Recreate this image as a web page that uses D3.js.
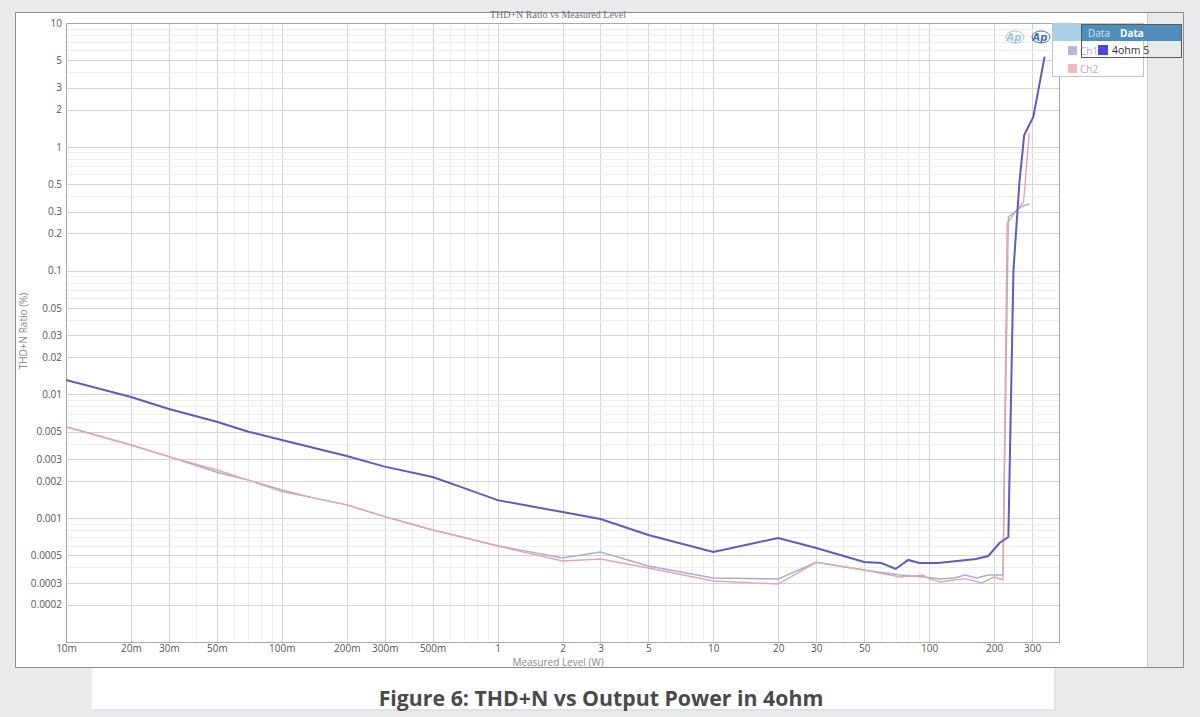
<!DOCTYPE html>
<html><head><meta charset="utf-8">
<script src="https://cdn.jsdelivr.net/npm/d3@7/dist/d3.min.js"></script>
<style>html,body{margin:0;padding:0;background:#e9eaec;}svg{display:block;}</style>
</head><body>
<svg id="c" width="1200" height="717"></svg>
<script>
const chartTitle = "THD+N Ratio vs Measured Level";
const xAxisTitle = "Measured Level (W)";
const yAxisTitle = "THD+N Ratio (%)";
const caption = "Figure 6: THD+N vs Output Power in 4ohm";

const xTickValues = [0.01,0.02,0.03,0.05,0.1,0.2,0.3,0.5,1,2,3,5,10,20,30,50,100,200,300];
const xTickLabels = ["10m","20m","30m","50m","100m","200m","300m","500m","1","2","3","5","10","20","30","50","100","200","300"];
const yTickValues = [10,5,3,2,1,0.5,0.3,0.2,0.1,0.05,0.03,0.02,0.01,0.005,0.003,0.002,0.001,0.0005,0.0003,0.0002];
const yTickLabels = ["10","5","3","2","1","0.5","0.3","0.2","0.1","0.05","0.03","0.02","0.01","0.005","0.003","0.002","0.001","0.0005","0.0003","0.0002"];

const ch1Power = [0.01,0.02,0.03,0.05,0.07,0.1,0.14,0.2,0.3,0.5,0.6,1,2,3,5,10,20,30,50,73.5,94,113,131,147,166,188,220,233,270,291];
const ch1Thd   = [0.00548,0.0039,0.00314,0.00235,0.00203,0.00169,0.00146,0.00128,0.00103,0.000803,0.000746,0.0006,0.000477,0.000533,0.000411,0.000329,0.000323,0.00044,0.000382,0.000348,0.000335,0.000323,0.000329,0.000348,0.000329,0.000348,0.000348,0.271,0.332,0.345];

const ch2Power = [0.01,0.02,0.03,0.05,0.07,0.1,0.14,0.2,0.3,0.5,0.6,1,2,3,5,10,20,30,50,73.5,94,100,113,131,147,175,200,220,230,251,274,291];
const ch2Thd   = [0.00548,0.0039,0.00314,0.00245,0.00203,0.00164,0.00146,0.00128,0.00103,0.000803,0.000746,0.000596,0.000451,0.000468,0.000396,0.000311,0.000294,0.00044,0.000382,0.000335,0.000348,0.000323,0.000305,0.000317,0.000325,0.0003,0.000335,0.000317,0.242,0.297,0.358,1.29];

const ohm4Power = [0.01,0.02,0.03,0.05,0.07,0.1,0.2,0.3,0.5,0.67,1,2,3,5,10,20,30,50,60,70,80,90,110,165,188,212,233,246,262,276,304,343];
const ohm4Thd   = [0.0131,0.00953,0.00762,0.00602,0.005,0.00428,0.00318,0.00261,0.00215,0.0018,0.0014,0.00112,0.000985,0.000731,0.000533,0.000692,0.000575,0.000443,0.000434,0.000389,0.00046,0.000434,0.000434,0.000468,0.000495,0.00063,0.000705,0.1,0.51,1.245,1.74,5.34];

const seriesNames = ["Ch1","Ch2","4ohm 5"];

const svg = d3.select("#c");
const L = 66, R = 1059, T = 23, B = 642;
const x = d3.scaleLog().domain([0.01, 400]).range([L, R]);
const y = d3.scaleLog().domain([0.0001, 10]).range([B, T]);

// panels
svg.append("rect").attr("x",15.5).attr("y",12.5).attr("width",1168).attr("height",655).attr("fill","#ffffff").attr("stroke","#8c8c8c");
svg.append("rect").attr("x",1147).attr("y",13).attr("width",36).attr("height",654).attr("fill","#e9e9ea");
svg.append("line").attr("x1",1147.5).attr("x2",1147.5).attr("y1",13).attr("y2",667).attr("stroke","#c9c9c9");
// caption box
svg.append("rect").attr("x",94).attr("y",670).attr("width",962).attr("height",41).attr("fill","#dcdcdc").attr("opacity",0.6);
svg.append("rect").attr("x",92).attr("y",668).attr("width",962).attr("height",41).attr("fill","#ffffff");
svg.append("text").attr("x",601).attr("y",706).attr("text-anchor","middle")
  .attr("font-family","Open Sans").attr("font-weight","bold").attr("font-size",21.3).attr("fill","#4a4a4a").text(caption);

// grid
const g = svg.append("g");
function allTicks(lo, hi){ const out=[]; for(let e=-5;e<4;e++){ for(let k=1;k<10;k++){ const v=k*Math.pow(10,e); if(v>lo*1.0001 && v<hi*0.9999) out.push(v);} } return out; }
const xMinor = allTicks(0.01,400), yMinor = allTicks(0.0001,10);
const isMaj = (v, arr) => arr.some(a => Math.abs(a-v)/a < 1e-6);
g.selectAll(".xg").data(xMinor).enter().append("line")
  .attr("x1",d=>Math.round(x(d))+0.5).attr("x2",d=>Math.round(x(d))+0.5).attr("y1",T).attr("y2",B)
  .attr("stroke",d=>isMaj(d,xTickValues)?"#d4d4d4":"#eeeeee").attr("stroke-width",1);
g.selectAll(".yg").data(yMinor).enter().append("line")
  .attr("y1",d=>Math.round(y(d))+0.5).attr("y2",d=>Math.round(y(d))+0.5).attr("x1",L).attr("x2",R)
  .attr("stroke",d=>isMaj(d,yTickValues)?"#d4d4d4":"#eeeeee").attr("stroke-width",1);
svg.append("rect").attr("x",L+0.5).attr("y",T+0.5).attr("width",R-L).attr("height",B-T).attr("fill","none").attr("stroke","#a8a8a8");

// axes labels
const xAxis = d3.axisBottom(x).tickValues(xTickValues).tickFormat((d,i)=>xTickLabels[i]).tickSize(0).tickPadding(3);
const xa = svg.append("g").attr("transform",`translate(0,${B})`).call(xAxis);
xa.select(".domain").remove();
xa.selectAll("text").attr("font-family","Open Sans").attr("font-size",10).attr("fill","#555");
const yAxis = d3.axisLeft(y).tickValues(yTickValues).tickFormat((d,i)=>yTickLabels[i]).tickSize(0).tickPadding(4);
const ya = svg.append("g").attr("transform",`translate(${L},0)`).call(yAxis);
ya.select(".domain").remove();
ya.selectAll("text").attr("font-family","Open Sans").attr("font-size",10).attr("fill","#555");

svg.append("text").attr("x",558).attr("y",18).attr("text-anchor","middle").attr("font-family","Liberation Serif")
  .attr("font-size",10).attr("fill","#707070").text(chartTitle);
svg.append("text").attr("x",558).attr("y",665.5).attr("text-anchor","middle").attr("font-family","Open Sans")
  .attr("font-size",10).attr("fill","#8a8a8a").text(xAxisTitle);
svg.append("text").attr("transform","translate(27,331) rotate(-90)").attr("text-anchor","middle").attr("font-family","Open Sans")
  .attr("font-size",10).attr("fill","#8a8a8a").text(yAxisTitle);

// lines
const line = d3.line().x(d=>x(d[0])).y(d=>y(d[1]));
svg.append("clipPath").attr("id","pc").append("rect").attr("x",L).attr("y",T).attr("width",R-L).attr("height",B-T);
const lg = svg.append("g").attr("clip-path","url(#pc)");
lg.append("path").datum(ch1Power.map((p,i)=>[p,ch1Thd[i]])).attr("d",line).attr("fill","none").attr("stroke","#a7acd6").attr("stroke-width",1.4);
lg.append("path").datum(ch2Power.map((p,i)=>[p,ch2Thd[i]])).attr("d",line).attr("fill","none").attr("stroke","#e6a6aa").attr("stroke-width",1.4);
lg.append("path").datum(ohm4Power.map((p,i)=>[p,ohm4Thd[i]])).attr("d",line).attr("fill","none").attr("stroke","#5b5cc2").attr("stroke-width",2);

// AP logos
function logo(cx, cy, col){
  svg.append("ellipse").attr("cx",cx).attr("cy",cy).attr("rx",9).attr("ry",6).attr("fill","none").attr("stroke",col).attr("stroke-width",1);
  svg.append("text").attr("x",cx-1).attr("y",cy+3.5).attr("text-anchor","middle").attr("font-family","DejaVu Sans").attr("font-style","italic")
    .attr("font-weight","bold").attr("font-size",10).attr("fill",col).text("Ap");
}
logo(1015,37,"#9fc2dc");
logo(1041,37,"#3f73aa");

// legend 1
svg.append("rect").attr("x",1052.5).attr("y",23.5).attr("width",91).attr("height",53).attr("fill","#ffffff").attr("stroke","#c4c4c4");
svg.append("rect").attr("x",1053).attr("y",24).attr("width",90).attr("height",17).attr("fill","#a9d0e6");
svg.append("rect").attr("x",1068).attr("y",46).attr("width",9).attr("height",9).attr("fill","#b5b8dc");
svg.append("text").attr("x",1080).attr("y",55).attr("font-family","Open Sans").attr("font-size",10).attr("fill","#b0b0b0").text(seriesNames[0]);
svg.append("rect").attr("x",1068).attr("y",64).attr("width",9).attr("height",9).attr("fill","#f2b9b9");
svg.append("text").attr("x",1080).attr("y",73).attr("font-family","Open Sans").attr("font-size",10).attr("fill","#b8aaaa").text(seriesNames[1]);
// legend 2 (overlapping)
svg.append("rect").attr("x",1081.5).attr("y",24.5).attr("width",100).attr("height",33).attr("fill","none").attr("stroke","#5a5a5a");
svg.append("rect").attr("x",1082).attr("y",25).attr("width",99).attr("height",16).attr("fill","#4f8dbb");
svg.append("text").attr("x",1088).attr("y",37).attr("font-family","Open Sans").attr("font-size",10).attr("fill","#d7e7f3").text("Data");
svg.append("text").attr("x",1120).attr("y",37).attr("font-family","Open Sans").attr("font-weight","bold").attr("font-size",10).attr("fill","#ffffff").text("Data");
svg.append("rect").attr("x",1098).attr("y",45).attr("width",10).attr("height",10).attr("fill","#4848e0");
svg.append("text").attr("x",1112).attr("y",54).attr("font-family","Open Sans").attr("font-size",10.5).attr("fill","#333").text(seriesNames[2]);
</script>
</body></html>
